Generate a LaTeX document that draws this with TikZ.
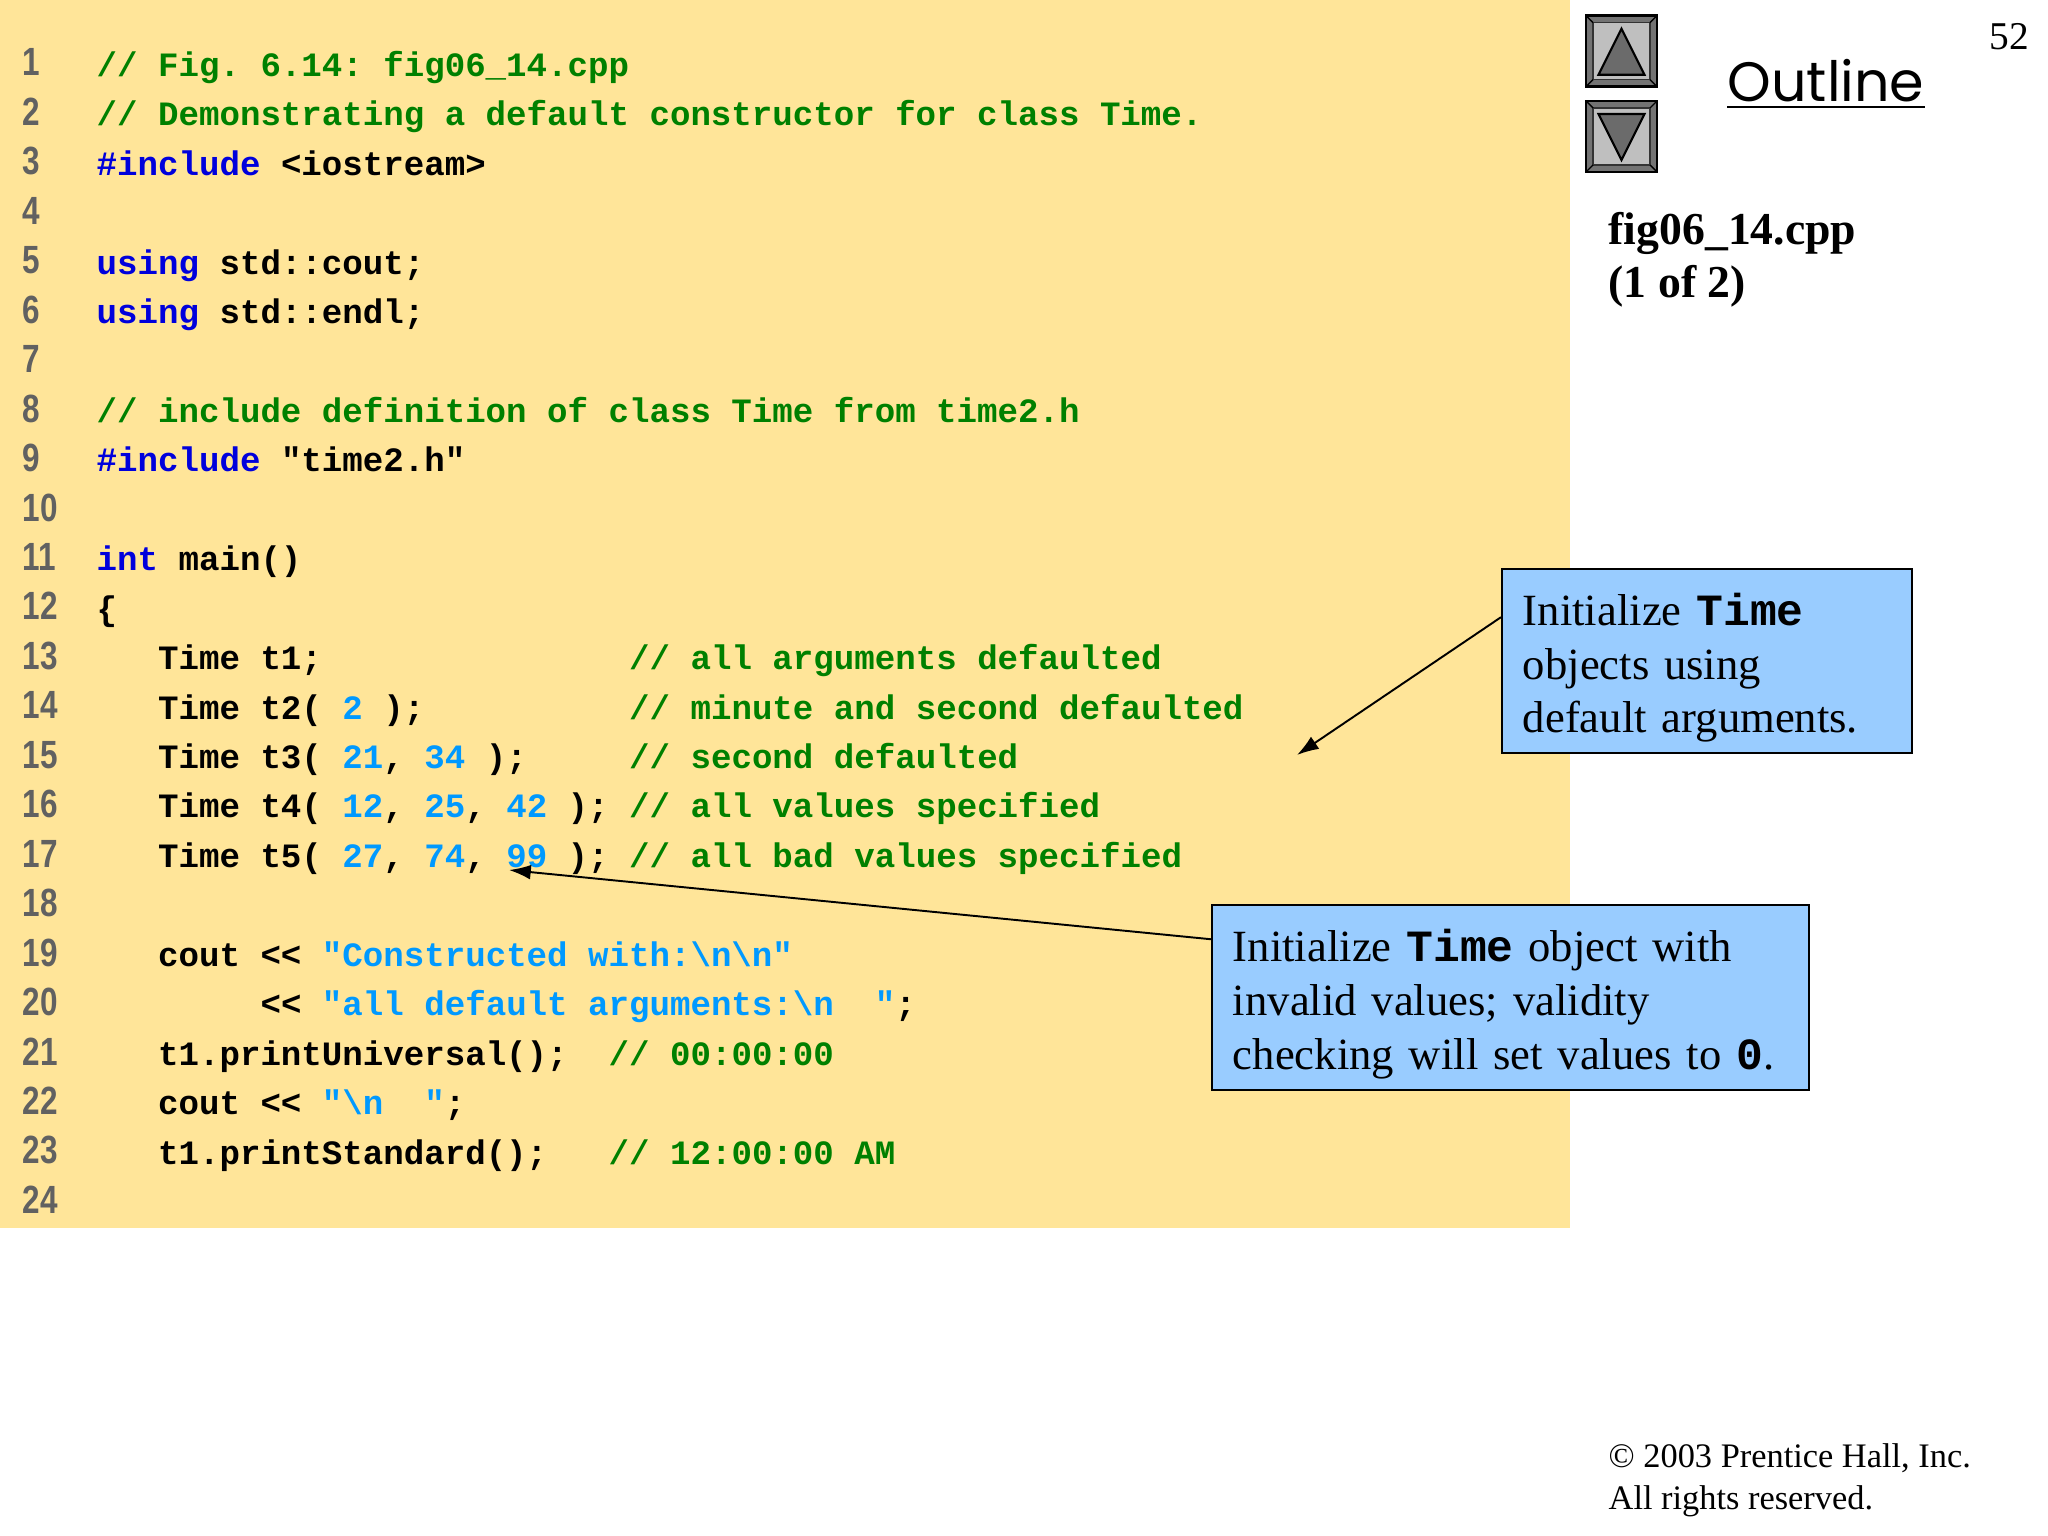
\documentclass[tikz,border=0pt]{standalone}
\usepackage{fontspec}
\setmainfont{Liberation Serif}
\newfontfamily\calloutfont[WordSpace=0.85]{Liberation Serif}
\newfontfamily\tightfont[WordSpace=0.62]{Liberation Serif}
\newfontfamily\codefont{Liberation Mono}
\newfontfamily\numfont[FakeStretch=0.8]{Liberation Sans}
\newfontfamily\outlinefont{Poppins}
\usetikzlibrary{calc,arrows.meta}
\definecolor{panelbg}{RGB}{255,229,153}
\definecolor{calloutbg}{RGB}{153,204,255}
\definecolor{kwblue}{RGB}{0,0,220}
\definecolor{cmgreen}{RGB}{0,128,0}
\definecolor{litblue}{RGB}{0,153,255}
\newcommand{\kw}[1]{\textcolor{kwblue}{#1}}
\newcommand{\cm}[1]{\textcolor{cmgreen}{#1}}
\newcommand{\lit}[1]{\textcolor{litblue}{#1}}
\newcommand{\tm}[1]{{\codefont\bfseries #1}}
\newcommand{\boxstrut}{\rule{0pt}{13.1pt}}
\newcommand{\codeline}[2]{\node[codetext] (code#1) at (0.96,{-0.762-0.4945*(#1-1)}) {#2};}
\tikzset{
  codetext/.style={anchor=base west,inner sep=0pt,
    font=\codefont\bfseries\fontsize{9.71pt}{11pt}\selectfont\frenchspacing},
  linenum/.style={anchor=base west,inner sep=0pt,text=black!62,
    font=\numfont\bfseries\fontsize{11.2pt}{12pt}\selectfont},
  callout/.style={draw=black,line width=0.55pt,fill=calloutbg,anchor=north west,
    inner sep=0pt,align=left,font=\calloutfont\fontsize{12.7pt}{15.3pt}\selectfont},
  sidetext/.style={anchor=base west,inner sep=0pt,align=left},
  leader/.style={-{Latex[length=6.2pt,width=4.2pt]},line width=0.55pt,black},
}
\begin{document}
\begin{tikzpicture}
    \useasboundingbox (0,0) rectangle (20.48,-15.36);
    \fill[panelbg] (0,0) rectangle (15.70,-12.28);
    \foreach \n in {1,...,24}{% Line numbers down the left edge
      \node[linenum] (num\n) at (0.22,{-0.76-0.4945*(\n-1)}) {\n};}
    \codeline{1}{\cm{// Fig. 6.14: fig06\_14.cpp}}
    \codeline{2}{\cm{// Demonstrating a default constructor for class Time.}}
    \codeline{3}{\kw{\#include} <iostream>}
    \codeline{5}{\kw{using} std::cout;}
    \codeline{6}{\kw{using} std::endl;}
    \codeline{8}{\cm{// include definition of class Time from time2.h}}
    \codeline{9}{\kw{\#include} "time2.h"}
    \codeline{11}{\kw{int} main()}
    \codeline{12}{\{}
    \codeline{13}{~~~Time t1;~~~~~~~~~~~~~~~\cm{// all arguments defaulted}}
    \codeline{14}{~~~Time t2( \lit{2} );~~~~~~~~~~\cm{// minute and second defaulted}}
    \codeline{15}{~~~Time t3( \lit{21}, \lit{34} );~~~~~\cm{// second defaulted}}
    \codeline{16}{~~~Time t4( \lit{12}, \lit{25}, \lit{42} ); \cm{// all values specified}}
    \codeline{17}{~~~Time t5( \lit{27}, \lit{74}, \lit{99} ); \cm{// all bad values specified}}
    \codeline{19}{~~~cout << \lit{"Constructed with:\textbackslash n\textbackslash n"}}
    \codeline{20}{~~~~~~~~<< \lit{"all default arguments:\textbackslash n~~"};}
    \codeline{21}{~~~t1.printUniversal();~~\cm{// 00:00:00}}
    \codeline{22}{~~~cout << \lit{"\textbackslash n~~"};}
    \codeline{23}{~~~t1.printStandard();~~~\cm{// 12:00:00 AM}}
    % nav buttons
    \foreach \by/\ay/\cy in {-0.157/0.13/0.59,-1.01/0.59/0.13}{
      \begin{scope}[shift={(15.86,\by)},yscale=-1]
        \filldraw[fill=black!55,draw=black,line width=0.8pt] (0,0) rectangle (0.71,0.71);
        \filldraw[fill=black!25,draw=black!80,line width=0.4pt] (0.07,0.07) rectangle (0.64,0.64);
        \draw[line width=0.4pt] (0,0) -- (0.07,0.07) (0.71,0) -- (0.64,0.07)
          (0,0.71) -- (0.07,0.64) (0.71,0.71) -- (0.64,0.64);
        \filldraw[fill=black!58,draw=black,line width=0.6pt,line join=miter]
          (0.355,\ay) -- (0.125,\cy) -- (0.585,\cy) -- cycle;
      \end{scope}}
    \node[anchor=base west,inner sep=0pt,font=\outlinefont\fontsize{15.8pt}{17pt}\selectfont]
      (outline) at (17.27,-1.02) {Outline};
    \draw[line width=0.65pt] ($(outline.base west)+(0,-0.05)$) -- ($(outline.base east)+(0,-0.05)$);
    \node[sidetext,font=\fontsize{11.2pt}{12pt}\selectfont] (pagenum) at (19.89,-0.50) {52};
    \node[sidetext,font=\bfseries\fontsize{13pt}{15.3pt}\selectfont] (fileinfo) at (16.08,-2.98)
      {fig06\_14.cpp\\(1 of 2)};
    \node[sidetext,font=\fontsize{9.78pt}{11.9pt}\selectfont] (copyright) at (16.08,-15.09)
      {\textcopyright{} 2003 Prentice Hall, Inc.\\All rights reserved.};
    % callouts
    \node[callout,minimum width=4.10cm,minimum height=1.84cm,text width=3.68cm] (boxA) at (15.01,-5.68)
      {\boxstrut Initialize \tm{Time}\\objects using\\default arguments.};
    \node[callout,minimum width=5.97cm,minimum height=1.85cm,text width=5.55cm] (boxB) at (12.11,-9.04)
      {\boxstrut Initialize \tm{Time} object with\\invalid values; validity\\{\tightfont checking will set values to} \tm{0}.};
    \coordinate (tipA) at (12.97,-7.55);
    \coordinate (tipB) at (5.09,-8.70);
    \draw[leader] (boxA.168) -- (tipA);
    \draw[leader] (boxB.169) -- (tipB);
\end{tikzpicture}
\end{document}
